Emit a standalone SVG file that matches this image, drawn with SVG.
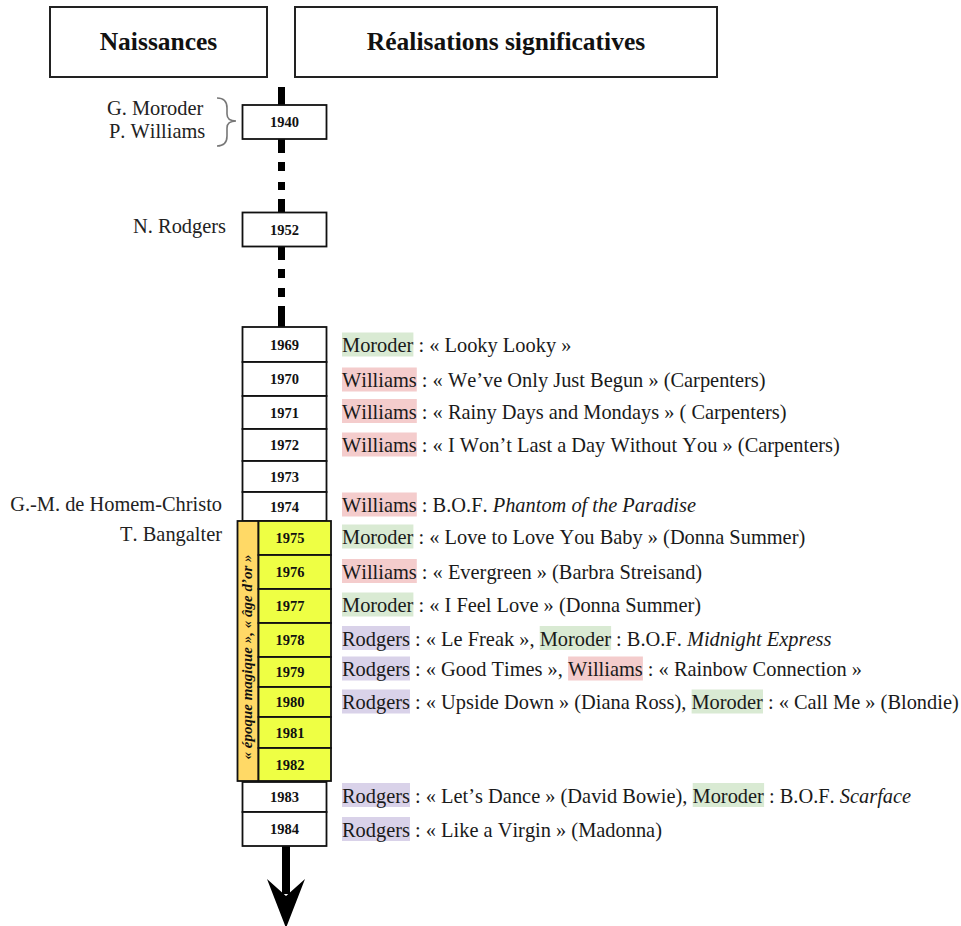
<svg xmlns="http://www.w3.org/2000/svg" width="961" height="926" viewBox="0 0 961 926">
<style>
.hdr{fill:#fff;stroke:#222;stroke-width:2}
.ht{font-family:"Liberation Serif","Times New Roman",serif;font-weight:bold;font-size:25.5px;fill:#111;text-anchor:middle}
.yb{fill:#fff;stroke:#111;stroke-width:1.8}
.yy{fill:#eeff44;stroke:#111;stroke-width:1.8}
.yr{font-family:"Liberation Serif","Times New Roman",serif;font-weight:bold;font-size:14.5px;fill:#111;text-anchor:middle}
.t{font-family:"Liberation Serif","Times New Roman",serif;font-size:20.4px;fill:#1a1a1a;font-kerning:none}
.nm{font-family:"Liberation Serif","Times New Roman",serif;font-size:20.4px;fill:#222;font-kerning:none}
.g{fill:#d9ead3}
.r{fill:#f4cccc}
.p{fill:#d9d2e9}
.i{font-style:italic}
.ln{fill:#000}
</style>
<rect width="961" height="926" fill="#fff"/>

<g id="header-naissances">
<rect class="hdr" x="50" y="7" width="217" height="70"/>
<text class="ht" x="158.5" y="50">Naissances</text>
</g>
<g id="header-realisations">
<rect class="hdr" x="295" y="7" width="422" height="70"/>
<text class="ht" x="506" y="50">Réalisations significatives</text>
</g>

<g id="connectors">
<rect class="ln" x="278" y="87" width="7" height="18"/>
<rect class="ln" x="278" y="139" width="7" height="14"/>
<rect class="ln" x="278" y="162" width="7" height="9"/>
<rect class="ln" x="278" y="182" width="7" height="8"/>
<rect class="ln" x="278" y="199" width="7" height="13"/>
<rect class="ln" x="278" y="247" width="7" height="13"/>
<rect class="ln" x="278" y="269" width="7" height="9"/>
<rect class="ln" x="278" y="288" width="7" height="9"/>
<rect class="ln" x="278" y="306" width="7" height="21"/>
<rect class="ln" x="282" y="846" width="8" height="48"/>
<path class="ln" d="M267,879 L286,928 L305,879 L286,896 Z"/>
<path d="M217,98 Q227,98 227,108 L227,114 Q227,121 236,121 Q227,121 227,128 L227,136 Q227,146 217,146" fill="none" stroke="#777" stroke-width="1.6"/>
</g>

<g id="names">
<text class="nm" x="107" y="115">G. Moroder</text>
<text class="nm" x="109" y="138">P. Williams</text>
<text class="nm" x="226" y="233" text-anchor="end">N. Rodgers</text>
<text class="nm" x="222" y="511" text-anchor="end">G.-M. de Homem-Christo</text>
<text class="nm" x="222" y="541" text-anchor="end">T. Bangalter</text>
</g>

<g id="y1940"><rect class="yb" x="242.5" y="105" width="84" height="34"/><text class="yr" x="284.5" y="127">1940</text></g>
<g id="y1952"><rect class="yb" x="242.5" y="212.5" width="84" height="34"/><text class="yr" x="284.5" y="234.5">1952</text></g>

<g id="y1969"><rect class="yb" x="242.5" y="327" width="84" height="35"/><text class="yr" x="284.5" y="350">1969</text></g>
<g id="y1970"><rect class="yb" x="242.5" y="362" width="84" height="34"/><text class="yr" x="284.5" y="384">1970</text></g>
<g id="y1971"><rect class="yb" x="242.5" y="396" width="84" height="33"/><text class="yr" x="284.5" y="417.5">1971</text></g>
<g id="y1972"><rect class="yb" x="242.5" y="429" width="84" height="32"/><text class="yr" x="284.5" y="450">1972</text></g>
<g id="y1973"><rect class="yb" x="242.5" y="461" width="84" height="31"/><text class="yr" x="284.5" y="481.5">1973</text></g>
<g id="y1974"><rect class="yb" x="242.5" y="492" width="84" height="29"/><text class="yr" x="284.5" y="511.5">1974</text></g>

<g id="golden-age">
<rect fill="#ffd966" stroke="#111" stroke-width="1.8" x="237.5" y="521" width="21" height="260"/>
<text transform="translate(251.5,657) rotate(-90)" text-anchor="middle" font-family="'Liberation Serif','Times New Roman',serif" font-size="15" font-weight="bold" font-style="italic" fill="#111">« époque magique », « âge d’or »</text>
</g>

<g id="y1975"><rect class="yy" x="258.5" y="521" width="72.5" height="34"/><text class="yr" x="290" y="543">1975</text></g>
<g id="y1976"><rect class="yy" x="258.5" y="555" width="72.5" height="34"/><text class="yr" x="290" y="577">1976</text></g>
<g id="y1977"><rect class="yy" x="258.5" y="589" width="72.5" height="34"/><text class="yr" x="290" y="611">1977</text></g>
<g id="y1978"><rect class="yy" x="258.5" y="623" width="72.5" height="34"/><text class="yr" x="290" y="645">1978</text></g>
<g id="y1979"><rect class="yy" x="258.5" y="657" width="72.5" height="30"/><text class="yr" x="290" y="677">1979</text></g>
<g id="y1980"><rect class="yy" x="258.5" y="687" width="72.5" height="30"/><text class="yr" x="290" y="707">1980</text></g>
<g id="y1981"><rect class="yy" x="258.5" y="717" width="72.5" height="31"/><text class="yr" x="290" y="737.5">1981</text></g>
<g id="y1982"><rect class="yy" x="258.5" y="748" width="72.5" height="33"/><text class="yr" x="290" y="769.5">1982</text></g>

<g id="y1983"><rect class="yb" x="242.5" y="782" width="84" height="30"/><text class="yr" x="284.5" y="802">1983</text></g>
<g id="y1984"><rect class="yb" x="242.5" y="812" width="84" height="34"/><text class="yr" x="284.5" y="834">1984</text></g>

<g id="r1969"><rect class="g" x="342" y="332.5" width="71.4" height="24"/><text class="t" x="342" y="352">Moroder : « Looky Looky »</text></g>
<g id="r1970"><rect class="r" x="342" y="367.5" width="74.8" height="24"/><text class="t" x="342" y="387">Williams : « We’ve Only Just Begun » (Carpenters)</text></g>
<g id="r1971"><rect class="r" x="342" y="399" width="74.8" height="24"/><text class="t" x="342" y="418.5">Williams : « Rainy Days and Mondays » ( Carpenters)</text></g>
<g id="r1972"><rect class="r" x="342" y="432.5" width="74.8" height="24"/><text class="t" x="342" y="452">Williams : « I Won’t Last a Day Without You » (Carpenters)</text></g>
<g id="r1974"><rect class="r" x="342" y="492.5" width="74.8" height="24"/><text class="t" x="342" y="512">Williams : B.O.F. <tspan class="i">Phantom of the Paradise</tspan></text></g>
<g id="r1975"><rect class="g" x="342" y="524.5" width="71.4" height="24"/><text class="t" x="342" y="544">Moroder : « Love to Love You Baby » (Donna Summer)</text></g>
<g id="r1976"><rect class="r" x="342" y="559" width="74.8" height="24"/><text class="t" x="342" y="578.5">Williams : « Evergreen » (Barbra Streisand)</text></g>
<g id="r1977"><rect class="g" x="342" y="592.5" width="71.4" height="24"/><text class="t" x="342" y="612">Moroder : « I Feel Love » (Donna Summer)</text></g>
<g id="r1978"><rect class="p" x="342" y="626" width="68" height="24"/><rect class="g" x="539.7" y="626" width="71.4" height="24"/><text class="t" x="342" y="645.5">Rodgers : « Le Freak », Moroder : B.O.F. <tspan class="i">Midnight Express</tspan></text></g>
<g id="r1979"><rect class="p" x="342" y="656.5" width="68" height="24"/><rect class="r" x="568.1" y="656.5" width="74.8" height="24"/><text class="t" x="342" y="676">Rodgers : « Good Times », Williams : « Rainbow Connection »</text></g>
<g id="r1980"><rect class="p" x="342" y="689.5" width="68" height="24"/><rect class="g" x="691.6" y="689.5" width="71.4" height="24"/><text class="t" x="342" y="709">Rodgers : « Upside Down » (Diana Ross), Moroder : « Call Me » (Blondie)</text></g>
<g id="r1983"><rect class="p" x="342" y="783" width="68" height="24"/><rect class="g" x="692.7" y="783" width="71.4" height="24"/><text class="t" x="342" y="802.5">Rodgers : « Let’s Dance » (David Bowie), Moroder : B.O.F. <tspan class="i">Scarface</tspan></text></g>
<g id="r1984"><rect class="p" x="342" y="817" width="68" height="24"/><text class="t" x="342" y="836.5">Rodgers : « Like a Virgin » (Madonna)</text></g>
</svg>
